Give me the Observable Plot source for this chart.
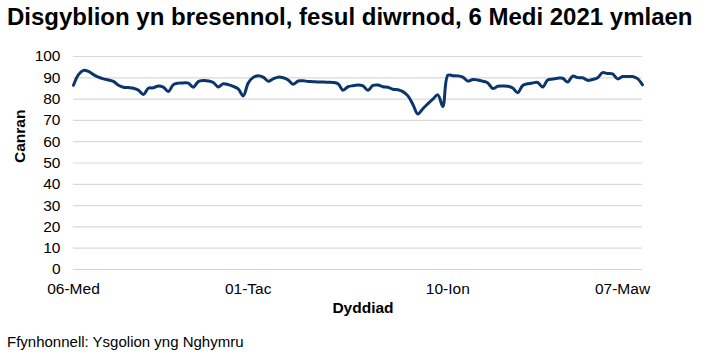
<!DOCTYPE html>
<html>
<head>
<meta charset="utf-8">
<script src="https://cdn.jsdelivr.net/npm/d3@7"></script>
<script src="https://cdn.jsdelivr.net/npm/@observablehq/plot@0.6"></script>
<style>
  html, body { margin: 0; padding: 0; background: #fff; }
  body { width: 706px; height: 360px; overflow: hidden; font-family: "Liberation Sans", Arial, sans-serif; }
  #title { height: 36px; box-sizing: border-box; padding: 3px 0 0 7px; font-weight: bold; font-size: 24px; line-height: 27px; color: #000; white-space: nowrap; }
  #caption { height: 29px; box-sizing: border-box; padding: 2px 0 0 7px; font-size: 15px; line-height: 18px; color: #000; white-space: nowrap; }
  svg { display: block; }
</style>
</head>
<body>
<div id="title">Disgyblion yn bresennol, fesul diwrnod, 6 Medi 2021 ymlaen</div>
<div id="chart"></div>
<div id="caption">Ffynhonnell: Ysgolion yng Nghymru</div>
<script>
// School days (categories)
const dates = [
  "2021-09-06","2021-09-07","2021-09-08","2021-09-09","2021-09-10",
  "2021-09-13","2021-09-14","2021-09-15","2021-09-16","2021-09-17",
  "2021-09-20","2021-09-21","2021-09-22","2021-09-23","2021-09-24",
  "2021-09-27","2021-09-28","2021-09-29","2021-09-30","2021-10-01",
  "2021-10-04","2021-10-05","2021-10-06","2021-10-07","2021-10-08",
  "2021-10-11","2021-10-12","2021-10-13","2021-10-14","2021-10-15",
  "2021-10-18","2021-10-19","2021-10-20","2021-10-21","2021-10-22",
  "2021-11-01","2021-11-02","2021-11-03","2021-11-04","2021-11-05",
  "2021-11-08","2021-11-09","2021-11-10","2021-11-11","2021-11-12",
  "2021-11-15","2021-11-16","2021-11-17","2021-11-18","2021-11-19",
  "2021-11-22","2021-11-23","2021-11-24","2021-11-25","2021-11-26",
  "2021-11-29","2021-11-30","2021-12-01","2021-12-02","2021-12-03",
  "2021-12-06","2021-12-07","2021-12-08","2021-12-09","2021-12-10",
  "2021-12-13","2021-12-14","2021-12-15","2021-12-16","2021-12-17",
  "2021-12-20",
  "2022-01-04","2022-01-05","2022-01-06","2022-01-07",
  "2022-01-10","2022-01-11","2022-01-12","2022-01-13","2022-01-14",
  "2022-01-17","2022-01-18","2022-01-19","2022-01-20","2022-01-21",
  "2022-01-24","2022-01-25","2022-01-26","2022-01-27","2022-01-28",
  "2022-01-31","2022-02-01","2022-02-02","2022-02-03","2022-02-04",
  "2022-02-07","2022-02-08","2022-02-09","2022-02-10","2022-02-11",
  "2022-02-14","2022-02-15","2022-02-16","2022-02-17","2022-02-18",
  "2022-02-28","2022-03-01","2022-03-02","2022-03-03","2022-03-04",
  "2022-03-07","2022-03-08","2022-03-09","2022-03-10","2022-03-11"
];

// Attendance percentage
const values = [
  86.5, 91.5, 93.5, 93.0, 91.5,
  90.3, 89.5, 89.0, 88.3, 86.5,
  85.6, 85.4, 85.1, 84.2, 82.2,
  85.1, 85.3, 86.2, 85.6, 83.6,
  86.8, 87.5, 87.6, 87.5, 85.6,
  88.2, 88.7, 88.5, 87.8, 85.7,
  87.2, 86.8, 86.0, 84.8, 81.5,
  87.5, 90.2, 91.0, 90.3, 88.4,
  89.5, 90.3, 90.0, 89.0, 87.0,
  88.5, 88.6, 88.3, 88.2, 88.0,
  88.0, 87.9, 87.8, 87.2, 84.2,
  85.8, 86.3, 86.6, 86.2, 84.1,
  86.4, 86.6, 85.8, 85.6, 84.6,
  84.4, 83.5, 81.5, 77.5, 73.0,
  75.5,
  77.8, 80.0, 82.0, 76.5,
  91.2, 91.0, 90.9, 90.3, 88.5,
  89.2, 89.0, 88.4, 87.6, 85.0,
  86.0, 86.1, 86.0, 85.2, 83.0,
  86.4, 87.2, 87.6, 87.8, 85.7,
  89.0, 89.4, 89.8, 89.8, 88.0,
  90.8, 90.1, 90.0, 88.8, 89.2,
  90.0, 92.4, 92.0, 91.8, 89.5,
  90.6, 90.6, 90.6, 89.6, 86.7
];

const tickDates = ["2021-09-06", "2021-11-01", "2022-01-10", "2022-03-07"];
const tickLabels = ["06-Med", "01-Tac", "10-Ion", "07-Maw"];
const yTicks = [0, 10, 20, 30, 40, 50, 60, 70, 80, 90, 100];
const yLabel = "Canran";
const xLabel = "Dyddiad";

const data = dates.map((d, i) => ({date: d, value: values[i]}));
const labelOf = new Map(tickDates.map((d, i) => [d, tickLabels[i]]));

const chart = Plot.plot({
  width: 706,
  height: 295,
  marginLeft: 73,
  marginRight: 64,
  marginTop: 20,
  marginBottom: 62,
  style: {fontFamily: "'Liberation Sans', Arial, sans-serif", fontSize: "15.5px", color: "#000", background: "#fff"},
  x: {type: "point", domain: dates, padding: 0},
  y: {domain: [0, 100]},
  marks: [
    Plot.ruleY(yTicks.filter(t => t > 0), {stroke: "#d9d9d9", strokeWidth: 1.2}),
    Plot.ruleY([0], {stroke: "#bdd7ee", strokeWidth: 1.2}),
    Plot.axisY({ticks: yTicks, tickSize: 0, tickPadding: 13, label: null, fill: "#000"}),
    Plot.axisX({ticks: tickDates, tickSize: 0, tickPadding: 13, tickFormat: d => labelOf.get(d), label: null, fill: "#000"}),
    Plot.line(data, {x: "date", y: "value", stroke: "#0b366b", strokeWidth: 3, curve: "catmull-rom"}),
    Plot.text([yLabel], {frameAnchor: "left", dx: -53, rotate: -90, fontWeight: "bold", fontSize: 15.5, fill: "#000"}),
    Plot.text([xLabel], {frameAnchor: "bottom", dx: 5, dy: 43, fontWeight: "bold", fontSize: 15.5, fill: "#000"})
  ]
});
document.getElementById("chart").appendChild(chart);
</script>
</body>
</html>
